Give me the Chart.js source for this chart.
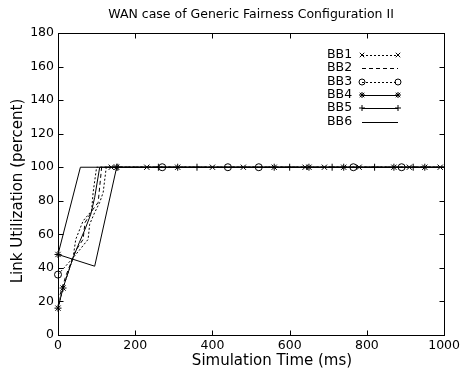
<!DOCTYPE html>
<html>
<head>
<meta charset="utf-8">
<script src="https://cdn.jsdelivr.net/npm/chart.js@4.4.0/dist/chart.umd.min.js"></script>
<style>
  html, body { margin: 0; padding: 0; background: #fff; }
  #wrap { width: 463px; height: 371px; }
</style>
</head>
<body>
<div id="wrap"><canvas id="c" width="463" height="371"></canvas></div>
<script>
// Link utilization (percent) per backbone link versus simulation time (ms).
// Marker flags: 1 = draw the series marker at that sample, 0 = plain vertex.
const seriesNames = ['BB1', 'BB2', 'BB3', 'BB4', 'BB5', 'BB6'];

const bb1Time = [0, 13, 39, 46, 65, 87, 91, 100, 138, 230, 400, 480, 640, 690, 780, 910, 990];
const bb1Util = [16, 28, 46, 57, 68, 74, 85, 100, 100, 100, 100, 100, 100, 100, 100, 100, 100];
const bb1Mark = [1, 1, 0, 0, 0, 0, 0, 0, 1, 1, 1, 1, 1, 1, 1, 1, 1];

const bb2Time = [0, 20, 45, 65, 70, 91, 104, 113, 1000];
const bb2Util = [20, 35, 50, 57, 67, 75, 79, 100, 100];
const bb2Mark = [0, 0, 0, 0, 0, 0, 0, 0, 0];

const bb3Time = [0, 39, 57, 78, 82, 95, 108, 117, 125, 270, 440, 520, 765, 890, 1000];
const bb3Util = [36, 46, 51, 57, 66, 73, 79, 85, 100, 100, 100, 100, 100, 100, 100];
const bb3Mark = [1, 0, 0, 0, 0, 0, 0, 0, 0, 1, 1, 1, 1, 1, 0];

const bb4Time = [0, 95, 152, 310, 560, 650, 740, 870, 950, 1000];
const bb4Util = [48, 41, 100, 100, 100, 100, 100, 100, 100, 100];
const bb4Mark = [1, 0, 1, 1, 1, 1, 1, 1, 1, 0];

const bb5Time = [0, 13, 39, 55, 70, 85, 95, 108, 155, 260, 360, 600, 710, 820, 920, 1000];
const bb5Util = [16, 28, 46, 55, 63, 72, 82, 100, 100, 100, 100, 100, 100, 100, 100, 100];
const bb5Mark = [1, 1, 0, 0, 0, 0, 0, 0, 1, 1, 1, 1, 1, 1, 1, 0];

const bb6Time = [0, 58, 1000];
const bb6Util = [48, 100, 100];
const bb6Mark = [0, 0, 0];

const xTicks = [0, 200, 400, 600, 800, 1000];
const yTicks = [0, 20, 40, 60, 80, 100, 120, 140, 160, 180];

const chartTitle = 'WAN case of Generic Fairness Configuration II';
const xTitle = 'Simulation Time (ms)';
const yTitle = 'Link Utilization (percent)';

const FONT = "'DejaVu Sans', 'Liberation Sans', sans-serif";

function series(label, times, utils, marks, pointStyle, dash) {
  return {
    label,
    data: times.map((t, i) => ({ x: t, y: utils[i] })),
    borderColor: '#000',
    backgroundColor: 'transparent',
    borderWidth: 1,
    borderDash: dash,
    markerStyle: pointStyle,
    markerFlags: marks,
    pointRadius: 0,
    pointHoverRadius: 0,
    tension: 0,
    fill: false
  };
}

const datasets = [
  series(seriesNames[0], bb1Time, bb1Util, bb1Mark, 'crossRot', [2, 2]),
  series(seriesNames[1], bb2Time, bb2Util, bb2Mark, null, [4, 3]),
  series(seriesNames[2], bb3Time, bb3Util, bb3Mark, 'circle', [2, 2]),
  series(seriesNames[3], bb4Time, bb4Util, bb4Mark, 'star', []),
  series(seriesNames[4], bb5Time, bb5Util, bb5Mark, 'cross', []),
  series(seriesNames[5], bb6Time, bb6Util, bb6Mark, null, [])
];

function marker(ctx, style, x, y, r) {
  ctx.beginPath();
  if (style === 'circle') {
    ctx.arc(x, y, r, 0, Math.PI * 2);
  } else {
    const parts = style === 'cross' ? ['+'] : style === 'crossRot' ? ['x'] : ['+', 'x'];
    parts.forEach(p => {
      if (p === '+') {
        ctx.moveTo(x - r, y); ctx.lineTo(x + r, y);
        ctx.moveTo(x, y - r); ctx.lineTo(x, y + r);
      } else {
        const d = r * 0.75;
        ctx.moveTo(x - d, y - d); ctx.lineTo(x + d, y + d);
        ctx.moveTo(x - d, y + d); ctx.lineTo(x + d, y - d);
      }
    });
  }
  ctx.stroke();
}

// Series markers at flagged samples.
const markerPlugin = {
  id: 'markers',
  afterDatasetsDraw(chart) {
    const { ctx } = chart;
    ctx.save();
    ctx.strokeStyle = '#000';
    ctx.lineWidth = 1;
    ctx.setLineDash([]);
    chart.data.datasets.forEach((ds, i) => {
      if (!ds.markerStyle) return;
      const meta = chart.getDatasetMeta(i);
      meta.data.forEach((pt, j) => {
        if (ds.markerFlags[j]) marker(ctx, ds.markerStyle, pt.x, pt.y, 3.5);
      });
    });
    ctx.restore();
  }
};

// Box frame, inward ticks on all four sides, titles and the key.
const framePlugin = {
  id: 'frame',
  afterDraw(chart) {
    const { ctx, chartArea: a, scales } = chart;
    const xs = scales.x, ys = scales.y;
    ctx.save();
    ctx.strokeStyle = '#000';
    ctx.lineWidth = 1;
    ctx.setLineDash([]);
    const L = Math.round(a.left) + 0.5, R = Math.round(a.right) + 0.5;
    const T = Math.round(a.top) + 0.5, B = Math.round(a.bottom) + 0.5;
    ctx.strokeRect(L, T, R - L, B - T);
    const tl = 5;
    ctx.beginPath();
    xTicks.forEach(v => {
      const px = Math.round(xs.getPixelForValue(v)) + 0.5;
      ctx.moveTo(px, B); ctx.lineTo(px, B - tl);
      ctx.moveTo(px, T); ctx.lineTo(px, T + tl);
    });
    yTicks.forEach(v => {
      const py = Math.round(ys.getPixelForValue(v)) + 0.5;
      ctx.moveTo(L, py); ctx.lineTo(L + tl, py);
      ctx.moveTo(R, py); ctx.lineTo(R - tl, py);
    });
    ctx.stroke();

    ctx.fillStyle = '#000';
    ctx.textAlign = 'center';
    ctx.textBaseline = 'middle';

    // chart title
    ctx.font = '12.5px ' + FONT;
    ctx.fillText(chartTitle, (a.left + a.right) / 2, 15);

    // axis titles
    ctx.font = '15px ' + FONT;
    ctx.fillText(xTitle, 272, 361);
    ctx.save();
    ctx.translate(18, 191);
    ctx.rotate(-Math.PI / 2);
    ctx.fillText(yTitle, 0, 0);
    ctx.restore();

    // key
    const rowY = [55, 68, 82, 95, 108, 122];
    ctx.font = '12.5px ' + FONT;
    ctx.textAlign = 'left';
    chart.data.datasets.forEach((ds, i) => {
      const y = rowY[i];
      ctx.fillText(ds.label, 327, y);
      const x0 = 362, x1 = 398;
      ctx.setLineDash(ds.borderDash || []);
      ctx.beginPath();
      ctx.moveTo(x0, y + 0.5); ctx.lineTo(x1, y + 0.5);
      ctx.stroke();
      ctx.setLineDash([]);
      if (ds.markerStyle) {
        marker(ctx, ds.markerStyle, x0, y, 3);
        marker(ctx, ds.markerStyle, x1, y, 3);
      }
    });
    ctx.restore();
  }
};

new Chart(document.getElementById('c'), {
  type: 'line',
  data: { datasets },
  options: {
    responsive: false,
    animation: false,
    devicePixelRatio: 1,
    layout: { padding: { left: 0, right: 17, top: 33, bottom: 0 } },
    plugins: {
      legend: { display: false },
      tooltip: { enabled: false },
      title: { display: false }
    },
    scales: {
      x: {
        type: 'linear',
        min: 0, max: 1000,
        afterFit: s => { s.height = 36; },
        afterBuildTicks: s => { s.ticks = xTicks.map(v => ({ value: v })); },
        grid: { display: false, drawTicks: false },
        border: { display: false },
        ticks: {
          color: '#000', font: { family: FONT, size: 12.5 }, padding: 3, maxRotation: 0,
          callback: v => String(v)
        }
      },
      y: {
        type: 'linear',
        min: 0, max: 180,
        afterFit: s => { s.width = 58; },
        afterBuildTicks: s => { s.ticks = yTicks.map(v => ({ value: v })); },
        grid: { display: false, drawTicks: false },
        border: { display: false },
        ticks: {
          color: '#000', font: { family: FONT, size: 12.5 }, padding: 4,
          callback: v => String(v)
        }
      }
    }
  },
  plugins: [framePlugin, markerPlugin]
});
</script>
</body>
</html>
